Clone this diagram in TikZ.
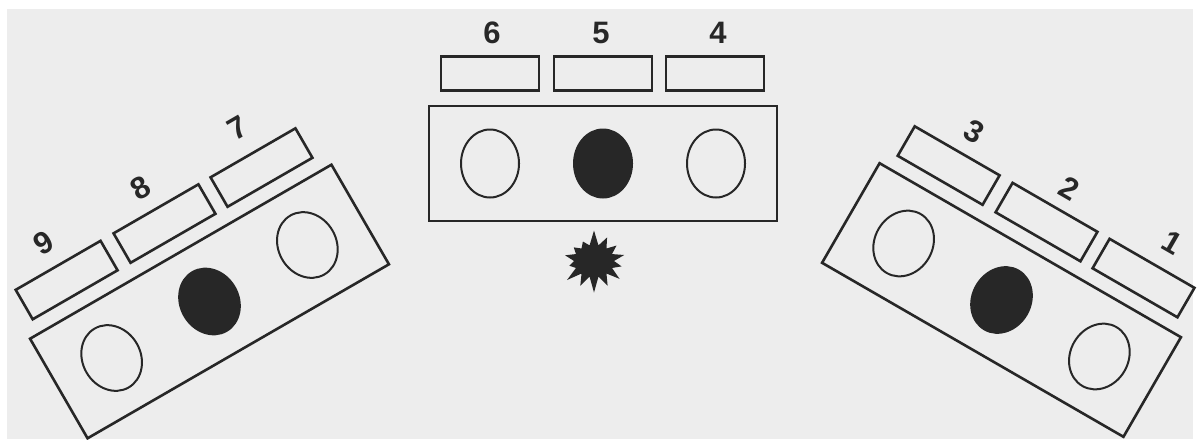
\documentclass[tikz,border=0pt]{standalone}
\usepackage{fontspec}
\setmainfont{Liberation Sans}
\usetikzlibrary{shapes.geometric,shapes.symbols}
\definecolor{paper}{HTML}{EDEDED}
\definecolor{ink}{HTML}{272727}
\tikzstyle{panel}=[rectangle, draw=ink, line width=1.3pt, inner sep=0pt, minimum width=174pt, minimum height=57.5pt]
\tikzstyle{lamp}=[ellipse, draw=ink, line width=1pt, inner sep=0pt, minimum width=29pt, minimum height=34pt]
\tikzstyle{litlamp}=[lamp, fill=ink]
\tikzstyle{slot}=[rectangle, draw=ink, line width=1.3pt, inner sep=0pt, minimum width=49pt, minimum height=17pt]
\tikzstyle{numsty}=[font=\fontsize{15.5}{18}\selectfont\bfseries, text=ink, inner sep=0pt]
\tikzstyle{burst}=[starburst, fill=ink, draw=none, inner sep=0pt, minimum width=36pt, minimum height=32pt, starburst points=14, starburst point height=8pt, random starburst=7]

\begin{document}
\begin{tikzpicture}[x=0.5pt,y=-0.5pt]

	\useasboundingbox (0,0) rectangle (1197,439);
	\fill[white] (0,0) rectangle (1197,439);
	\fill[paper] (7,9) rectangle (1193,439);

	% middle panel
	\begin{scope}[shift={(603,163.5)}]
		\node[panel] (mbox) at (0,0) {};
		\node[lamp] (mlamp1) at (-113,0) {};
		\node[litlamp] (mlamp2) at (0,0) {};
		\node[lamp] (mlamp3) at (113,0) {};

		\node[slot] (s6) at (-113,-90) {};
		\node[slot] (s5) at (0,-90) {};
		\node[slot] (s4) at (112,-90) {};

		\node[numsty] (n6) at (-111,-131) {6};
		\node[numsty] (n5) at (-2,-131) {5};
		\node[numsty] (n4) at (115,-131) {4};
	\end{scope}

	\node[burst] (flash) at (594,261) {};

	% left panel
	\begin{scope}[shift={(209.5,301.5)},rotate=30,transform shape]
		\node[panel] (lbox) at (0,0) {};
		\node[lamp] (llamp1) at (-113,0) {};
		\node[litlamp] (llamp2) at (0,0) {};
		\node[lamp] (llamp3) at (113,0) {};

		\node[slot] (s9) at (-113,-90) {};
		\node[slot] (s8) at (0,-90) {};
		\node[slot] (s7) at (112,-90) {};

		\node[numsty] (n9) at (-114,-134) {9};
		\node[numsty] (n8) at (-3,-133) {8};
		\node[numsty] (n7) at (111,-136) {7};
	\end{scope}

	% right panel
	\begin{scope}[shift={(1001.5,300)},rotate=-30,transform shape]
		\node[panel] (rbox) at (0,0) {};
		\node[lamp] (rlamp1) at (-113,0) {};
		\node[litlamp] (rlamp2) at (0,0) {};
		\node[lamp] (rlamp3) at (113,0) {};

		\node[slot] (s3) at (-113,-90) {};
		\node[slot] (s2) at (0,-90) {};
		\node[slot] (s1) at (112,-90) {};

		\node[numsty] (n3) at (-108,-132) {3};
		\node[numsty] (n2) at (3,-131) {2};
		\node[numsty] (n1) at (119,-135) {1};
	\end{scope}

\end{tikzpicture}
\end{document}
